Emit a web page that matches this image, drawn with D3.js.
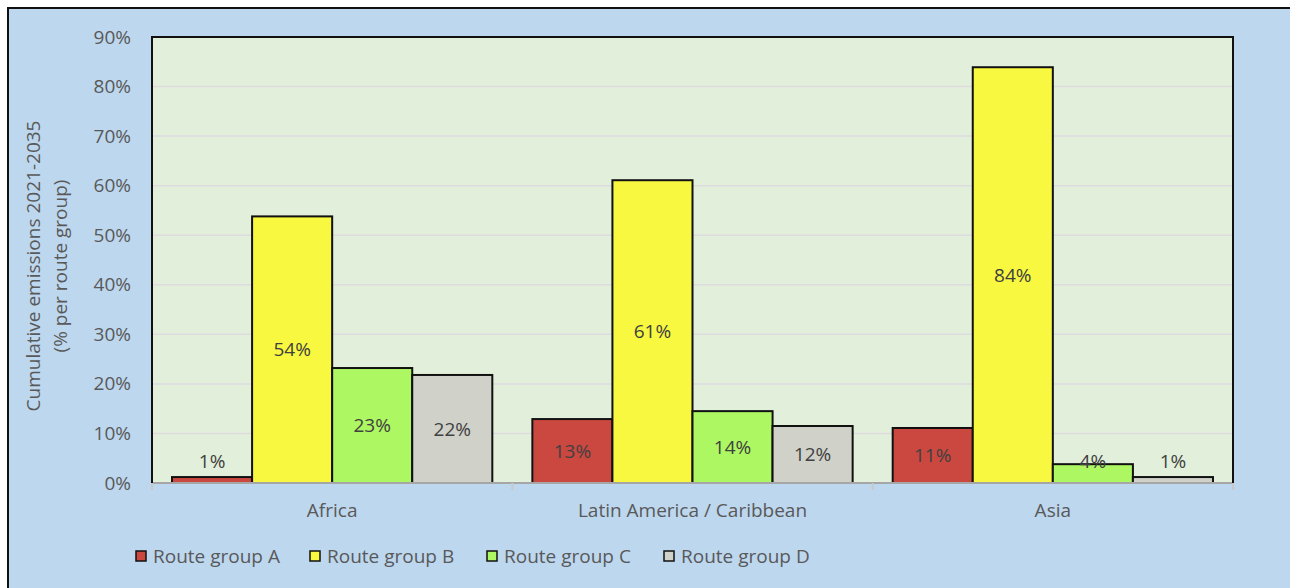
<!DOCTYPE html>
<html><head><meta charset="utf-8">
<script src="https://cdn.jsdelivr.net/npm/d3@7"></script>
<style>html,body{margin:0;padding:0;background:#fff;}svg{display:block;}</style>
</head><body>
<svg id="chart" width="1290" height="588"></svg>
<script>
const categories = ["Africa", "Latin America / Caribbean", "Asia"];
const seriesNames = ["Route group A", "Route group B", "Route group C", "Route group D"];
const groupA = [1.2, 12.9, 11.1];
const groupB = [53.8, 61.1, 83.9];
const groupC = [23.2, 14.5, 3.8];
const groupD = [21.8, 11.5, 1.2];
const labelsA = ["1%", "13%", "11%"];
const labelsB = ["54%", "61%", "84%"];
const labelsC = ["23%", "14%", "4%"];
const labelsD = ["22%", "12%", "1%"];
const yTicks = [0, 10, 20, 30, 40, 50, 60, 70, 80, 90];
const colors = ["#cb4840", "#f8f840", "#adf762", "#d0d1c9"];

const values = [groupA, groupB, groupC, groupD];
const labels = [labelsA, labelsB, labelsC, labelsD];

const svg = d3.select("#chart");
const font = "'Open Sans', sans-serif";
const fs = 19;
const textCol = "#595959";

// backgrounds
svg.append("rect").attr("x", 0).attr("y", 0).attr("width", 1290).attr("height", 588).attr("fill", "#fff");
svg.append("rect").attr("x", 8).attr("y", 8).attr("width", 1300).attr("height", 600)
  .attr("fill", "#bdd7ee").attr("stroke", "#111").attr("stroke-width", 2);

const m = {l: 152, r: 1233, t: 37, b: 483};
svg.append("rect").attr("x", m.l).attr("y", m.t).attr("width", m.r - m.l).attr("height", m.b - m.t)
  .attr("fill", "#e2efda");

const x = d3.scaleBand().domain(categories).range([m.l, m.r]).padding(0);
const xs = d3.scaleBand().domain(seriesNames).range([0, x.bandwidth()]).paddingOuter(0.25).paddingInner(0);
const y = d3.scaleLinear().domain([0, 90]).range([m.b, m.t]);

// gridlines
svg.append("g").selectAll("line").data(yTicks.filter(d => d > 0 && d < 90)).join("line")
  .attr("x1", m.l).attr("x2", m.r).attr("y1", d => y(d)).attr("y2", d => y(d))
  .attr("stroke", "#dddbe0").attr("stroke-width", 1.5);

// y axis labels
const yAxis = d3.axisLeft(y).tickValues(yTicks).tickFormat(d => d + "%").tickSize(0).tickPadding(21);
const ya = svg.append("g").attr("transform", `translate(${m.l},0)`).call(yAxis);
ya.select(".domain").remove();
ya.selectAll("text").attr("font-family", font).attr("font-size", fs).attr("fill", textCol);

// bars
const g = svg.append("g");
seriesNames.forEach((s, si) => {
  g.selectAll(null).data(categories).join("rect")
    .attr("x", c => x(c) + xs(s))
    .attr("y", (c, i) => y(values[si][i]))
    .attr("width", xs.bandwidth())
    .attr("height", (c, i) => y(0) - y(values[si][i]))
    .attr("fill", colors[si]).attr("stroke", "#111").attr("stroke-width", 2);
});

// x axis
const xAxis = d3.axisBottom(x).tickSize(0).tickPadding(21);
const xa = svg.append("g").attr("transform", `translate(0,${m.b})`).call(xAxis);
xa.select(".domain").remove();
xa.selectAll("text").attr("font-family", font).attr("font-size", fs).attr("fill", textCol);
svg.append("line").attr("x1", m.l).attr("x2", m.r).attr("y1", m.b).attr("y2", m.b)
  .attr("stroke", "#a6a6a6").attr("stroke-width", 2);
const bounds = categories.map(c => x(c)).concat([m.r]);
svg.append("g").selectAll("line").data(bounds).join("line")
  .attr("x1", d => d).attr("x2", d => d).attr("y1", m.b).attr("y2", m.b + 7)
  .attr("stroke", "#c8c8c8").attr("stroke-width", 2);

// plot border (top, left, right)
svg.append("path")
  .attr("d", `M${m.l},${m.b}V${m.t}H${m.r}V${m.b}`)
  .attr("fill", "none").attr("stroke", "#111").attr("stroke-width", 2);

// data labels
seriesNames.forEach((s, si) => {
  g.selectAll(null).data(categories).join("text")
    .attr("x", c => x(c) + xs(s) + xs.bandwidth() / 2)
    .attr("y", (c, i) => Math.min((y(values[si][i]) + y(0)) / 2, y(0) - 22))
    .attr("dy", "0.35em")
    .attr("text-anchor", "middle")
    .attr("font-family", font).attr("font-size", fs).attr("fill", "#404040")
    .text((c, i) => labels[si][i]);
});

// y title
const yt = svg.append("text").attr("transform", `translate(48,266) rotate(-90)`)
  .attr("text-anchor", "middle").attr("font-family", font).attr("font-size", fs).attr("fill", textCol);
yt.append("tspan").attr("x", 0).attr("dy", "-0.42em").text("Cumulative emissions 2021-2035");
yt.append("tspan").attr("x", 0).attr("dy", "1.4em").text("(% per route group)");

// legend
const legX = [136, 310, 487, 664];
const leg = svg.append("g");
seriesNames.forEach((s, si) => {
  leg.append("rect").attr("x", legX[si]).attr("y", 551).attr("width", 10).attr("height", 10)
    .attr("fill", colors[si]).attr("stroke", "#111").attr("stroke-width", 1.5);
  leg.append("text").attr("x", legX[si] + 17).attr("y", 556).attr("dy", "0.35em")
    .attr("font-family", font).attr("font-size", fs).attr("fill", textCol).text(s);
});
</script>
</body></html>
